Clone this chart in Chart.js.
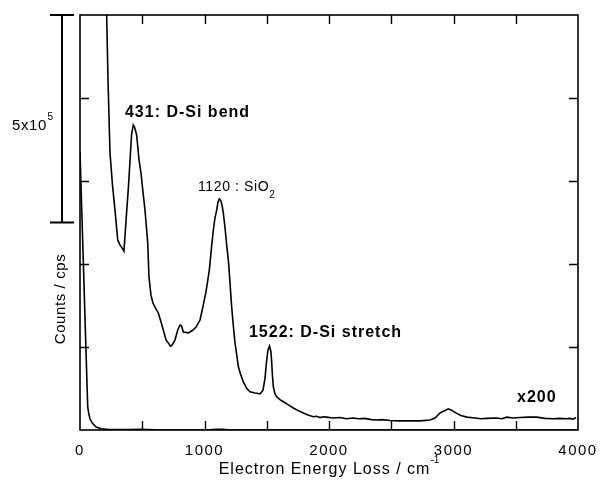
<!DOCTYPE html>
<html><head><meta charset="utf-8">
<script src="https://cdn.jsdelivr.net/npm/chart.js@4/dist/chart.umd.min.js"></script>
<style>html,body{margin:0;padding:0;background:#fff;}</style>
</head><body>
<canvas id="c" width="600" height="485"></canvas>
<script>
const FONT = 'Arial, "Liberation Sans", Helvetica, sans-serif';

// X tick labels (cm^-1) and tick spacing
const xTickLabels = [0, 1000, 2000, 3000, 4000];
const xTickMarks = [500, 1000, 1500, 2000, 2500, 3000, 3500];
const yTickMarks = [200000, 400000, 600000, 800000];

// Unscaled spectrum (elastic peak)
const x1Energy = [0, 16, 32, 48, 62, 70, 80, 100, 130, 170, 230, 300, 400, 500, 600, 1000, 1100, 1150, 1200, 2000, 3000, 4000];
const x1Counts = [670000, 511000, 352000, 193000, 55000, 41000, 27000, 16000, 7000, 3000, 1200, 800, 1000, 1500, 500, 0, 1500, 1500, 0, 0, 0, 0];

// Spectrum magnified x200
const x200Energy = [200, 214, 225, 241, 261, 281, 303, 321, 337, 353, 369, 390, 414, 428, 438, 455, 474, 490, 506, 522, 544, 554, 570, 586, 606, 629, 651, 669, 691, 709, 727, 741, 763, 785, 803, 815, 830, 870, 900, 932, 964, 990, 1012, 1039, 1056, 1071, 1084, 1098, 1108, 1119, 1129, 1141, 1151, 1165, 1178, 1193, 1205, 1217, 1231, 1245, 1259, 1271, 1289, 1312, 1337, 1365, 1406, 1446, 1470, 1486, 1498, 1510, 1522, 1534, 1540, 1546, 1553, 1566, 1580, 1606, 1633, 1671, 1713, 1751, 1794, 1831, 1874, 1900, 1928, 1955, 1981, 2030, 2088, 2140, 2195, 2240, 2289, 2340, 2383, 2430, 2490, 2570, 2651, 2731, 2811, 2851, 2892, 2924, 2958, 2988, 3026, 3060, 3106, 3173, 3220, 3267, 3341, 3390, 3427, 3480, 3534, 3600, 3668, 3735, 3801, 3855, 3904, 3935, 3962, 3984];
const x200Counts = [1180000, 1002000, 843000, 667000, 590000, 530000, 458000, 446000, 439000, 431000, 501000, 590000, 711000, 735000, 730000, 711000, 651000, 619000, 573000, 530000, 451000, 369000, 325000, 306000, 294000, 282000, 260000, 241000, 217000, 210000, 202000, 205000, 217000, 241000, 253000, 251000, 236000, 234000, 239000, 248000, 265000, 301000, 333000, 386000, 439000, 482000, 511000, 530000, 549000, 557000, 554000, 542000, 523000, 487000, 446000, 405000, 354000, 301000, 253000, 210000, 181000, 154000, 135000, 116000, 101000, 92000, 89000, 87000, 96000, 125000, 164000, 193000, 202000, 188000, 161000, 130000, 104000, 87000, 80000, 73000, 68000, 61000, 53000, 47000, 41000, 36000, 32000, 33000, 30000, 32000, 31000, 29000, 30000, 27000, 29000, 27000, 28000, 25000, 24000, 25000, 23000, 22000, 22000, 22000, 24000, 29000, 41000, 46000, 51000, 47000, 40000, 35000, 31000, 29000, 27000, 28000, 29000, 27000, 31000, 29000, 30000, 31000, 31000, 28000, 27000, 28000, 27000, 28000, 26000, 30000];

const peakLabels = [
  { text: '431: D-Si bend', e: 361, c: 766000, bold: true, size: 16, sp: 1 },
  { text: '1522: D-Si stretch', e: 1357, c: 234000, bold: true, size: 16, sp: 1 },
  { text: 'x200', e: 3510, c: 77000, bold: true, size: 16, sp: 1 }
];

function toPts(xs, ys) { return xs.map((v, i) => ({ x: v, y: ys[i] })); }

// draw text with letter spacing, return advance width
function spaced(ctx, text, x, y, font, sp) {
  ctx.font = font;
  ctx.letterSpacing = '0px';
  const w = ctx.measureText(text).width + sp * text.length;
  ctx.letterSpacing = sp + 'px';
  ctx.fillText(text, x, y);
  ctx.letterSpacing = '0px';
  return w;
}
function textW(ctx, text, font, sp) {
  ctx.font = font; ctx.letterSpacing = '0px';
  return ctx.measureText(text).width + sp * text.length;
}

const spacing = {
  id: 'spacing',
  beforeDraw(chart) { chart.ctx.letterSpacing = '1.5px'; },
  afterDraw(chart) { chart.ctx.letterSpacing = '0px'; }
};

const decor = {
  id: 'decor',
  afterDatasetsDraw(chart) {
    const { ctx, chartArea: a, scales: { x, y } } = chart;
    ctx.save();
    ctx.letterSpacing = '0px';
    ctx.strokeStyle = '#000';
    ctx.fillStyle = '#000';
    ctx.lineWidth = 1.6;
    ctx.strokeRect(a.left, a.top, a.right - a.left, a.bottom - a.top);
    const tl = 9;
    ctx.lineWidth = 1.4;
    ctx.beginPath();
    xTickMarks.forEach(v => {
      const px = Math.round(x.getPixelForValue(v)) + 0.5;
      ctx.moveTo(px, a.bottom); ctx.lineTo(px, a.bottom - tl);
      ctx.moveTo(px, a.top); ctx.lineTo(px, a.top + tl);
    });
    yTickMarks.forEach(v => {
      const py = Math.round(y.getPixelForValue(v)) + 0.5;
      ctx.moveTo(a.left, py); ctx.lineTo(a.left + tl, py);
      ctx.moveTo(a.right, py); ctx.lineTo(a.right - tl, py);
    });
    ctx.stroke();

    // scale bar 5x10^5
    const yTop = y.getPixelForValue(1000000), yBot = y.getPixelForValue(500000);
    const bx = a.left - 18;
    ctx.lineWidth = 2;
    ctx.beginPath();
    ctx.moveTo(bx, yTop); ctx.lineTo(bx, yBot);
    ctx.moveTo(bx - 12, yTop); ctx.lineTo(bx + 12, yTop);
    ctx.moveTo(bx - 12, yBot); ctx.lineTo(bx + 12, yBot);
    ctx.stroke();
    ctx.textBaseline = 'alphabetic';
    ctx.textAlign = 'left';
    const w5 = spaced(ctx, '5x10', 12, 130, '15px ' + FONT, 0.6);
    spaced(ctx, '5', 12 + w5 + 0.5, 120, '10px ' + FONT, 0);

    // y title
    ctx.save();
    ctx.translate(61, 299);
    ctx.rotate(-Math.PI / 2);
    ctx.textAlign = 'left';
    ctx.textBaseline = 'middle';
    const yt = 'Counts / cps';
    const ytw = textW(ctx, yt, '15px ' + FONT, 0.6);
    spaced(ctx, yt, -ytw / 2, 0, '15px ' + FONT, 0.6);
    ctx.restore();

    // x title with superscript
    const mid = (a.left + a.right) / 2;
    const main = 'Electron Energy Loss / cm';
    const mf = '16px ' + FONT, sf = '10px ' + FONT;
    const w1 = textW(ctx, main, mf, 1);
    const w2 = textW(ctx, '-1', sf, 0);
    const sx = mid - (w1 + w2) / 2;
    ctx.textAlign = 'left';
    spaced(ctx, main, sx, 474, mf, 1);
    spaced(ctx, '-1', sx + w1, 463, sf, 0);

    // peak labels
    ctx.textBaseline = 'middle';
    peakLabels.forEach(l => {
      spaced(ctx, l.text, x.getPixelForValue(l.e), y.getPixelForValue(l.c), (l.bold ? 'bold ' : '') + l.size + 'px ' + FONT, l.sp);
    });
    // 1120 : SiO2
    const lx = x.getPixelForValue(948), ly = y.getPixelForValue(585000);
    const tw = spaced(ctx, '1120 : SiO', lx, ly, '14px ' + FONT, 0.6);
    spaced(ctx, '2', lx + tw, ly + 8, '10px ' + FONT, 0);
    ctx.restore();
  }
};

new Chart(document.getElementById('c'), {
  type: 'scatter',
  data: {
    datasets: [
      { label: 'x1', data: toPts(x1Energy, x1Counts), showLine: true, borderColor: '#000', borderWidth: 1.6, pointRadius: 0, tension: 0, fill: false },
      { label: 'x200', data: toPts(x200Energy, x200Counts), showLine: true, borderColor: '#000', borderWidth: 1.6, pointRadius: 0, tension: 0, fill: false }
    ]
  },
  options: {
    responsive: false,
    animation: false,
    devicePixelRatio: 1,
    layout: { padding: { left: 0, right: 22, top: 15, bottom: 0 } },
    plugins: { legend: { display: false }, tooltip: { enabled: false } },
    scales: {
      x: {
        type: 'linear', min: 0, max: 4000,
        grid: { display: false, drawTicks: false },
        border: { display: false },
        ticks: { stepSize: 1000, color: '#000', font: { size: 15, family: FONT }, padding: 12, maxRotation: 0,
          callback: v => xTickLabels.includes(v) ? String(v) : '' },
        afterFit: s => { s.height = 55; s.paddingLeft = 0; s.paddingRight = 0; }
      },
      y: {
        type: 'linear', min: 0, max: 1000000,
        grid: { display: false, drawTicks: false },
        border: { display: false },
        ticks: { display: false },
        afterFit: s => { s.width = 80; s.paddingTop = 0; s.paddingBottom = 0; }
      }
    }
  },
  plugins: [spacing, decor]
});
</script>
</body></html>
